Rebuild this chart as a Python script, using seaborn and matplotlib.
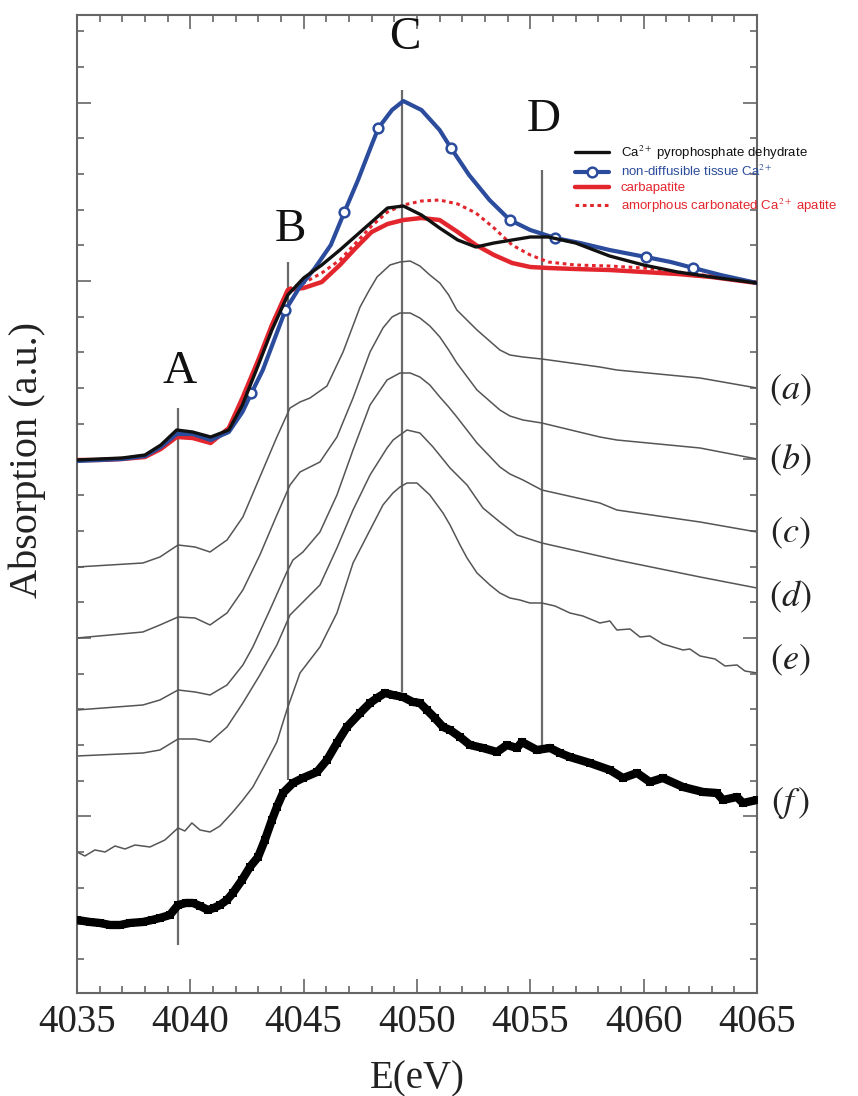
import matplotlib
matplotlib.use('Agg')
import matplotlib.pyplot as plt
from matplotlib.ticker import MultipleLocator
import seaborn as sns

# energies (eV) and absorption (a.u., arbitrary offsets)
E_ref = [4035, 4036, 4037, 4038, 4038.7, 4039.4, 4040.1, 4040.9, 4041.7, 4042.3, 4043, 4043.6,
         4044.3, 4045, 4045.8, 4046.6, 4047.3, 4048, 4048.7, 4049.4, 4050.2, 4051, 4051.8, 4052.6,
         4053.4, 4054.2, 4055, 4055.8, 4057, 4058.5, 4060, 4061.5, 4063, 4065]
pyro = [535, 536, 537, 540, 550, 565, 563, 558, 565, 590, 630, 665, 700, 717, 730, 745, 759, 773,
        787, 789, 780, 767, 755, 748, 752, 755, 758, 758, 752, 739, 730, 723, 718, 712]
carbapatite = [535, 535, 536, 538, 546, 558, 557, 552, 567, 597, 635, 670, 705, 707, 713, 730, 747,
               763, 771, 775, 777, 775, 763, 750, 740, 732, 728, 727, 726, 725, 723, 721, 718, 712]
amorphous = [535, 535, 536, 539, 547, 560, 559, 554, 567, 597, 635, 670, 706, 712, 722, 735, 752,
             769, 783, 790, 794, 795, 791, 782, 767, 750, 740, 733, 730, 729, 727, 723, 719, 712]

E_tissue = [4035, 4036, 4037, 4038, 4038.7, 4039.4, 4040.1, 4040.9, 4041.7, 4042.3, 4042.7, 4043.2,
            4043.7, 4044.2, 4044.8, 4045.5, 4046.2, 4046.8, 4047.4, 4048.0, 4048.3, 4048.9, 4049.4,
            4050.2, 4051.0, 4051.5, 4052.3, 4053.2, 4054.1, 4055.0, 4056.1, 4057.2, 4058.5, 4060.1,
            4061.2, 4062.2, 4063.4, 4065]
tissue = [534, 535, 536, 539, 548, 561, 561, 555, 563, 583, 602, 625, 655, 685, 707, 727, 750, 783,
          815, 850, 867, 885, 894, 885, 865, 847, 820, 795, 775, 765, 757, 752, 745, 738, 733, 727,
          720, 712]
tissue_marks = [10, 13, 17, 20, 25, 28, 30, 33, 35]

E_a = [4035.0, 4037.91, 4038.66, 4039.46, 4040.21, 4040.87, 4041.62, 4042.32, 4043.07, 4043.82,
       4044.40, 4044.84, 4045.28, 4046.03, 4046.74, 4047.49, 4047.9, 4048.24, 4048.81, 4049.25,
       4049.7, 4050.13, 4050.57, 4051.01, 4051.4, 4051.76, 4052.65, 4053.66, 4054.1, 4054.68,
       4055.51, 4058.07, 4058.82, 4062.49, 4065.0]
abs_a = [428, 432, 438, 450, 448, 443, 455, 478, 518, 558, 587, 593, 597, 609, 643, 688, 705, 718,
         730, 733, 734, 729, 720, 712, 700, 685, 665, 645, 640, 638, 636, 628, 625, 617, 607]

E_b = [4035.0, 4037.91, 4038.66, 4039.46, 4040.21, 4040.87, 4041.62, 4042.32, 4043.07, 4043.82,
       4044.40, 4044.84, 4045.72, 4046.47, 4047.18, 4047.93, 4048.50, 4048.9, 4049.25, 4049.7,
       4050.13, 4050.57, 4051.01, 4051.4, 4051.76, 4052.65, 4053.66, 4054.1, 4054.68, 4055.51,
       4058.07, 4058.82, 4062.49, 4065.0]
abs_b = [357, 363, 370, 378, 377, 370, 382, 405, 440, 480, 510, 523, 533, 558, 597, 643, 667, 678,
         682, 682, 677, 669, 658, 645, 632, 605, 585, 579, 575, 572, 558, 555, 547, 536]

E_c = [4035.0, 4037.91, 4038.66, 4039.46, 4040.21, 4040.87, 4041.62, 4042.32, 4042.76, 4043.51,
       4044.26, 4044.53, 4044.97, 4045.72, 4046.47, 4047.18, 4047.93, 4048.68, 4049.25, 4049.7,
       4050.13, 4050.57, 4051.01, 4051.4, 4051.76, 4052.65, 4053.66, 4054.1, 4054.68, 4055.51,
       4058.07, 4058.82, 4062.49, 4065.0]
abs_c = [285, 290, 295, 305, 303, 300, 310, 330, 348, 385, 423, 435, 443, 463, 500, 545, 590, 615,
         622, 622, 618, 610, 598, 588, 578, 552, 528, 521, 515, 505, 492, 485, 473, 463]

E_d = [4035.0, 4037.91, 4038.66, 4039.46, 4040.21, 4040.87, 4041.62, 4042.32, 4043.07, 4043.82,
       4044.40, 4044.84, 4045.72, 4046.47, 4047.18, 4047.93, 4048.68, 4048.95, 4049.25, 4049.56,
       4050.13, 4050.71, 4051.46, 4052.21, 4052.91, 4053.66, 4054.41, 4055.51, 4058.82, 4062.49,
       4065.0]
abs_d = [239, 242, 245, 256, 256, 253, 268, 292, 320, 350, 380, 390, 410, 447, 485, 520, 547, 555,
         560, 565, 562, 548, 527, 510, 487, 473, 460, 452, 435, 418, 407]

E_e = [4035.0, 4035.35, 4035.79, 4036.24, 4036.68, 4037.12, 4037.56, 4038.22, 4038.88, 4039.46,
       4039.76, 4040.07, 4040.43, 4040.87, 4041.31, 4041.88, 4042.32, 4042.76, 4043.29, 4043.82,
       4044.26, 4044.84, 4045.72, 4046.47, 4047.18, 4047.93, 4048.50, 4048.94, 4049.25, 4049.56,
       4050.0, 4050.57, 4051.15, 4051.46, 4051.90, 4052.21, 4052.65, 4053.22, 4053.66, 4054.10,
       4054.54, 4054.98, 4055.51, 4056.09, 4056.75, 4057.32, 4058.07, 4058.51, 4058.82, 4059.40,
       4059.84, 4060.28, 4060.85, 4061.74, 4062.04, 4062.49, 4063.15, 4063.59, 4064.12, 4064.47,
       4065.0]
abs_e = [143, 139, 145, 143, 149, 146, 150, 148, 155, 167, 164, 172, 165, 163, 169, 183, 195, 208,
         230, 253, 285, 322, 348, 382, 432, 465, 490, 502, 508, 512, 512, 500, 482, 470, 450, 437,
         422, 410, 402, 397, 395, 392, 392, 389, 382, 379, 372, 374, 365, 366, 358, 359, 351, 345,
         346, 339, 336, 329, 330, 324, 322]

E_f = [4035.0, 4035.57, 4036.01, 4036.46, 4036.9, 4037.34, 4037.91, 4038.31, 4038.66, 4039.10,
       4039.46, 4039.81, 4040.12, 4040.43, 4040.78, 4041.04, 4041.31, 4041.62, 4041.88, 4042.28,
       4042.63, 4042.99, 4043.29, 4043.60, 4043.82, 4044.09, 4044.53, 4044.97, 4045.59, 4046.03,
       4046.47, 4046.91, 4047.49, 4047.93, 4048.24, 4048.59, 4048.94, 4049.38, 4049.82, 4050.13,
       4050.44, 4050.79, 4051.15, 4051.46, 4051.90, 4052.34, 4052.91, 4053.53, 4053.97, 4054.41,
       4054.63, 4055.29, 4055.87, 4056.31, 4056.75, 4057.63, 4058.51, 4059.09, 4059.71, 4060.28,
       4060.85, 4061.74, 4062.62, 4063.23, 4063.50, 4064.12, 4064.38, 4065.0]
abs_f = [75, 73, 72, 70, 70, 72, 73, 75, 77, 80, 90, 92, 92, 89, 85, 87, 90, 95, 102, 115, 128, 138,
         155, 175, 188, 202, 212, 217, 223, 235, 252, 268, 282, 292, 297, 302, 300, 298, 293, 292,
         285, 277, 268, 265, 258, 250, 247, 243, 250, 247, 253, 245, 247, 242, 238, 232, 225, 217,
         222, 213, 217, 208, 203, 202, 195, 198, 192, 195]

peak_names = ['A', 'B', 'C', 'D']
peak_E = [4039.45, 4044.3, 4049.35, 4055.5]
peak_lo = [50, 215, 303, 250]
peak_hi = [587, 733, 905, 825]
peak_text_y = [623, 765, 957, 875]

curve_tags = [r'$(a)$', r'$(b)$', r'$(c)$', r'$(d)$', r'$(e)$', r'$(f\,)$']
curve_tag_y = [605, 535, 462, 398, 335, 192]

sns.set_theme(style='ticks')
plt.rcParams['font.family'] = ['Liberation Serif', 'DejaVu Serif']
plt.rcParams['mathtext.fontset'] = 'stix'

fig = plt.figure(figsize=(8.58, 10.96), dpi=100)
ax = fig.add_axes([0.0897, 0.094, 0.7925, 0.8923])

grey = '#555555'
for x, lo, hi in zip(peak_E, peak_lo, peak_hi):
    ax.vlines(x, lo, hi, color='#6a6a6a', lw=1.6, zorder=1)

for E, y in [(E_a, abs_a), (E_b, abs_b), (E_c, abs_c), (E_d, abs_d), (E_e, abs_e)]:
    sns.lineplot(x=E, y=y, ax=ax, color=grey, lw=1.1, sort=False, estimator=None, zorder=2,
                 solid_joinstyle='round')

sns.lineplot(x=E_f, y=abs_f, ax=ax, color='black', lw=6, marker='s', markersize=6,
             markeredgewidth=0, sort=False, estimator=None, zorder=3)

red = '#e3262d'
blue = '#2b4c9c'
sns.lineplot(x=E_ref, y=carbapatite, ax=ax, color=red, lw=3.2, sort=False, estimator=None,
             label='carbapatite', zorder=4)
sns.lineplot(x=E_ref, y=amorphous, ax=ax, color=red, lw=2.2, ls=(0, (1.2, 1.2)), sort=False,
             estimator=None, label=r'amorphous carbonated Ca$^{2+}$ apatite', zorder=5)
sns.lineplot(x=E_tissue, y=tissue, ax=ax, color=blue, lw=3, marker='o', markersize=7,
             markerfacecolor='white', markeredgecolor=blue, markeredgewidth=1.8,
             markevery=tissue_marks, sort=False, estimator=None,
             label=r'non-diffusible tissue Ca$^{2+}$', zorder=6)
sns.lineplot(x=E_ref, y=pyro, ax=ax, color='#111111', lw=2.4, sort=False, estimator=None,
             label=r'Ca$^{2+}$ pyrophosphate dehydrate', zorder=7)

for name, x, y in zip(peak_names, peak_E, peak_text_y):
    ax.text(x + 0.1, y, name, fontsize=34, ha='center', va='center', color='#111111')

for tag, y in zip(curve_tags, curve_tag_y):
    ax.text(1.0485, y, tag, transform=ax.get_yaxis_transform(), fontsize=26,
            ha='center', va='center', color='#222222')

handles, labels = ax.get_legend_handles_labels()
order = [3, 2, 0, 1]
leg = ax.legend([handles[i] for i in order], [labels[i] for i in order],
                loc='upper left', bbox_to_anchor=(0.662, 0.875), bbox_transform=fig.transFigure,
                frameon=False, handlelength=2.6, handletextpad=0.9,
                labelspacing=0.2, borderpad=0, labelcolor='linecolor',
                prop={'family': ['Liberation Sans', 'DejaVu Sans'], 'size': 9.5})

ax.set_xlim(4035, 4065)
ax.set_ylim(2, 980)
ax.xaxis.set_major_locator(MultipleLocator(5))
ax.xaxis.set_minor_locator(MultipleLocator(1))
ax.yaxis.set_major_locator(MultipleLocator(178.5))
ax.yaxis.set_minor_locator(MultipleLocator(35.7))
ax.tick_params(which='both', direction='in', top=True, right=True, color='#666666', width=1.2)
ax.tick_params(which='major', length=10)
ax.tick_params(which='minor', length=5)
ax.tick_params(axis='x', labelsize=28, pad=8, labelcolor='#222222')
ax.tick_params(axis='y', labelleft=False)
for s in ax.spines.values():
    s.set_color('#666666')
    s.set_linewidth(1.5)

ax.set_xlabel('E(eV)', fontsize=28, color='#222222', labelpad=14)
ax.set_ylabel('Absorption (a.u.)', fontsize=29, color='#222222')
ax.yaxis.set_label_coords(-0.045, 0.545)

fig.savefig('out.png', dpi=100)
